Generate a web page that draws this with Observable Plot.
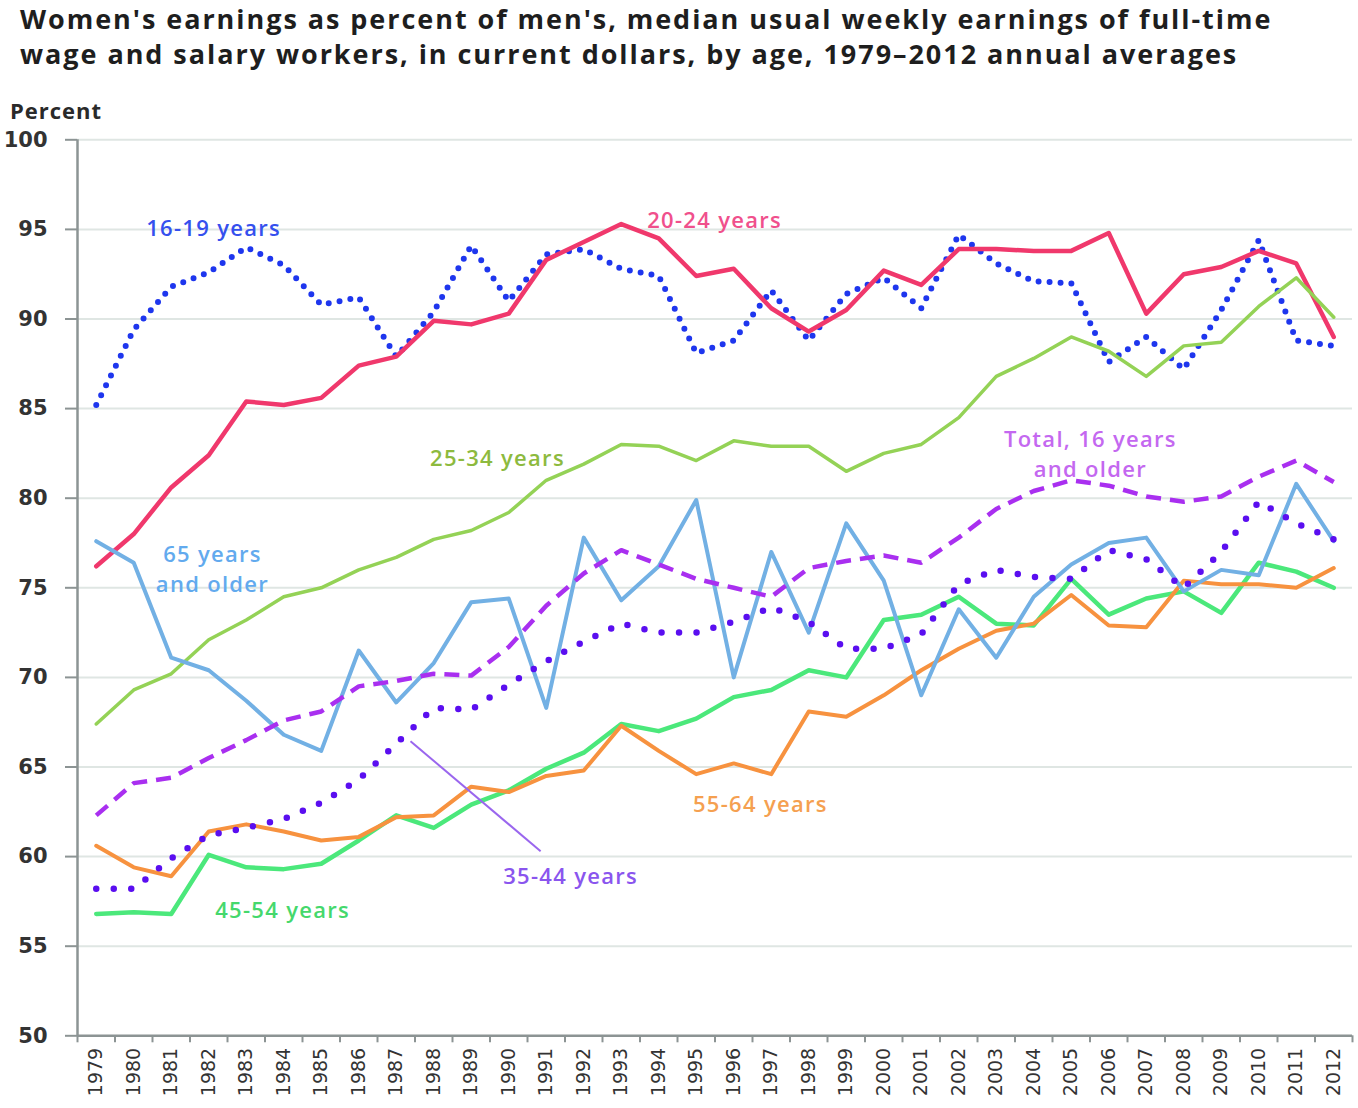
<!DOCTYPE html>
<html><head><meta charset="utf-8">
<script src="https://cdn.jsdelivr.net/npm/d3@7"></script>
<script src="https://cdn.jsdelivr.net/npm/@observablehq/plot@0.6"></script>
<style>
body{margin:0;background:#fff;position:relative;width:1358px;height:1108px;overflow:hidden;}
#title{height:72px;box-sizing:border-box;padding:1px 0 0 20px;font-family:"Open Sans",sans-serif;font-weight:700;font-size:27px;letter-spacing:1.95px;line-height:35px;color:#1e1e1e;white-space:nowrap;}
#ylab{position:absolute;left:10px;top:95px;font-family:"Open Sans",sans-serif;font-weight:700;font-size:22px;letter-spacing:1px;color:#2a2a2a;}
#chart svg{display:block;}
</style></head><body>
<div id="title">Women's earnings as percent of men's, median usual weekly earnings of full-time<br>wage and salary workers, in current dollars, by age, 1979–2012 annual averages</div>
<div id="ylab">Percent</div>
<div id="chart"></div>
<script>
const years = [1979,1980,1981,1982,1983,1984,1985,1986,1987,1988,1989,1990,1991,1992,1993,1994,1995,1996,1997,1998,1999,2000,2001,2002,2003,2004,2005,2006,2007,2008,2009,2010,2011,2012];
const yTicks = [50,55,60,65,70,75,80,85,90,95,100];

const age16_19 = [85.2,89.4,91.8,92.6,94.0,93.0,90.8,91.2,87.9,90.4, 94.1,91.0,93.6,93.9,92.8,92.4,88.1,88.8,91.6,88.8, 91.4,92.3,90.6,94.7,93.1,92.1,92.0,87.6,89.0,87.2, 90.5,94.4,88.8,88.5];
const age20_24 = [76.2,78.0,80.6,82.4,85.4,85.2,85.6,87.4,87.9,89.9, 89.7,90.3,93.3,94.3,95.3,94.5,92.4,92.8,90.6,89.3, 90.5,92.7,91.9,93.9,93.9,93.8,93.8,94.8,90.3,92.5, 92.9,93.8,93.1,89.0];
const age25_34 = [67.4,69.3,70.2,72.1,73.2,74.5,75.0,76.0,76.7,77.7, 78.2,79.2,81.0,81.9,83.0,82.9,82.1,83.2,82.9,82.9, 81.5,82.5,83.0,84.5,86.8,87.8,89.0,88.2,86.8,88.5, 88.7,90.7,92.3,90.1];
const age35_44 = [58.2,58.2,59.9,61.2,61.6,62.1,63.0,64.3,66.3,68.3, 68.2,69.6,70.9,72.0,73.0,72.5,72.5,73.1,73.9,73.1, 71.6,71.6,72.4,75.2,76.0,75.6,75.5,77.1,76.6,75.0, 77.0,79.8,78.6,77.7];
const age45_54 = [56.8,56.9,56.8,60.1,59.4,59.3,59.6,60.9,62.3,61.6, 62.9,63.7,64.9,65.8,67.4,67.0,67.7,68.9,69.3,70.4, 70.0,73.2,73.5,74.5,73.0,72.9,75.5,73.5,74.4,74.8, 73.6,76.4,75.9,75.0];
const age55_64 = [60.6,59.4,58.9,61.4,61.8,61.4,60.9,61.1,62.2,62.3, 63.9,63.6,64.5,64.8,67.3,65.9,64.6,65.2,64.6,68.1, 67.8,69.0,70.4,71.6,72.6,73.0,74.6,72.9,72.8,75.4, 75.2,75.2,75.0,76.1];
const age65plus = [77.6,76.4,71.1,70.4,68.7,66.8,65.9,71.5,68.6,70.8, 74.2,74.4,68.3,77.8,74.3,76.2,79.9,70.0,77.0,72.5, 78.6,75.4,69.0,73.8,71.1,74.5,76.3,77.5,77.8,74.8, 76.0,75.7,80.8,77.6];
const total16plus = [62.3,64.1,64.4,65.5,66.5,67.6,68.1,69.5,69.8,70.2, 70.1,71.7,74.0,75.8,77.1,76.3,75.5,75.0,74.5,76.1, 76.5,76.8,76.4,77.8,79.4,80.4,81.0,80.7,80.1,79.8, 80.1,81.2,82.1,80.9];

const series = [
  {name: "16-19 years", values: age16_19, stroke: "#1e36ee", width: 6, dash: "0 11", cap: "round"},
  {name: "20-24 years", values: age20_24, stroke: "#f0386c", width: 4.5, dash: null, cap: "round"},
  {name: "25-34 years", values: age25_34, stroke: "#94d256", width: 3.5, dash: null, cap: "round"},
  {name: "45-54 years", values: age45_54, stroke: "#4be87b", width: 4.5, dash: null, cap: "round"},
  {name: "55-64 years", values: age55_64, stroke: "#f7923f", width: 4, dash: null, cap: "round"},
  {name: "65 years and older", values: age65plus, stroke: "#72b0e4", width: 4, dash: null, cap: "round"},
  {name: "35-44 years", values: age35_44, stroke: "#5a0ef0", width: 6.5, dash: "0 17.5", cap: "round"},
  {name: "Total, 16 years and older", values: total16plus, stroke: "#a92ff0", width: 4.5, dash: "15 9", cap: "butt"}
];

const rows = series.flatMap(s => s.values.map((v, i) => ({series: s.name, year: years[i], value: v})));
const boundaries = [years[0] - 0.5, ...years.map(y => y + 0.5)];

const labels = [
  {text: "16-19 years", x: 1982.13, y: 95.16, color: "#3550ee"},
  {text: "20-24 years", x: 1995.49, y: 95.6, color: "#f0508c"},
  {text: "25-34 years", x: 1989.7, y: 82.36, color: "#8dba3e"},
  {text: "Total, 16 years\nand older", x: 2005.51, y: 82.58, color: "#c468f0"},
  {text: "65 years\nand older", x: 1982.1, y: 76.16, color: "#62aaee"},
  {text: "35-44 years", x: 1991.65, y: 59.0, color: "#8a55ee"},
  {text: "45-54 years", x: 1983.97, y: 57.12, color: "#45d86c"},
  {text: "55-64 years", x: 1996.71, y: 63.04, color: "#f5a050"}
];
const leader = [{x1: 1987.38, y1: 66.44, x2: 1990.85, y2: 60.3}];

const axisGray = "#8c9494";

const chart = Plot.plot({
  width: 1358,
  height: 1036,
  marginLeft: 77,
  marginRight: 6,
  marginTop: 67.3,
  marginBottom: 72.7,
  x: {domain: [1978.5, 2012.5], label: null},
  y: {domain: [50, 100], label: null},
  style: {background: "white", overflow: "visible"},
  marks: [
    Plot.gridY(yTicks.filter(t => t > 50), {stroke: "#dfe6e3", strokeOpacity: 1, strokeWidth: 2}),
    Plot.axisY(yTicks, {tickSize: 12, tickPadding: 18, fontSize: 21, fontWeight: "bold", fontFamily: "DejaVu Sans", color: "#333", stroke: axisGray, strokeWidth: 2, label: null}),
    Plot.axisX(boundaries, {tickSize: 7, tickFormat: () => "", stroke: axisGray, strokeWidth: 2, label: null}),
    Plot.axisX(years, {tickSize: 0, tickPadding: 12, tickRotate: -90, tickFormat: d => String(d), fontSize: 19, fontFamily: "DejaVu Sans", color: "#333", label: null}),
    Plot.ruleX([1978.5], {stroke: axisGray, strokeWidth: 2.5}),
    Plot.ruleY([50], {stroke: axisGray, strokeWidth: 2.5}),
    ...series.map(s => Plot.line(rows.filter(r => r.series === s.name), {
      x: "year", y: "value", stroke: s.stroke, strokeWidth: s.width,
      strokeDasharray: s.dash, strokeLinecap: s.cap, strokeLinejoin: "round"
    })),
    Plot.link(leader, {x1: "x1", y1: "y1", x2: "x2", y2: "y2", stroke: "#9a66ee", strokeWidth: 2}),
    ...labels.map(l => Plot.text([l], {
      x: "x", y: "y", text: "text", fill: l.color, fontSize: 22, fontWeight: 600,
      fontFamily: "Open Sans", lineHeight: 1.37, textAnchor: "middle"
    }))
  ]
});
d3.select(chart).selectAll('g[aria-label="text"] text').style("letter-spacing", "1.3px");
document.getElementById("chart").append(chart);
</script>
</body></html>
